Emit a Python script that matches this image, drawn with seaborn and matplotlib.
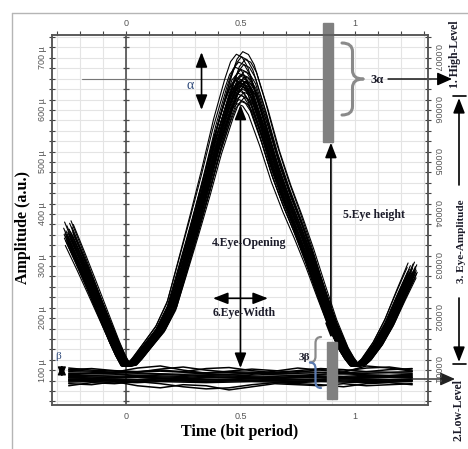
import numpy as np
import pandas as pd
import matplotlib
matplotlib.use('Agg')
import matplotlib.pyplot as plt
import seaborn as sns
from matplotlib.patches import Rectangle, PathPatch
from matplotlib.path import Path
from matplotlib.lines import Line2D
from matplotlib.ticker import MultipleLocator, FixedLocator, FuncFormatter

W, H = 468, 449

# mean "one" trace (time in bit periods, amplitude in micro units)
one_t = [-0.25, -0.2, -0.15, -0.1, -0.05, -0.025, 0.0, 0.025, 0.05, 0.1, 0.15, 0.2,
         0.25, 0.3, 0.35, 0.4, 0.45, 0.475, 0.5, 0.525, 0.55, 0.6, 0.65, 0.7, 0.75,
         0.8, 0.85, 0.9, 0.95, 0.975, 1.0, 1.025, 1.05, 1.1, 1.15, 1.2, 1.25]
one_v = [360, 310, 258, 205, 152, 128, 108, 110, 122, 150, 178, 222,
         298, 375, 455, 540, 612, 642, 655, 650, 632, 566, 492, 430, 375,
         316, 252, 190, 140, 122, 108, 110, 120, 150, 190, 240, 288]
one_base = 95

# peak of every "one" trace at t = 0.5 and its timing offset
one_peaks = [712, 707, 702, 697, 692, 687, 682, 678, 674, 671,
             668, 666, 664, 662, 660, 658, 657, 656, 655, 654,
             653, 652, 651, 650, 648, 646, 644, 642, 640, 637,
             634, 631, 628, 624, 620, 616, 612]
one_jitter = [0.010, -0.018, 0.004, 0.020, -0.008, 0.014, -0.022, 0.002, 0.016, -0.012,
              0.008, -0.004, 0.018, -0.016, 0.012, 0.000, -0.020, 0.006, 0.022, -0.010,
              0.014, -0.006, 0.003, -0.014, 0.019, -0.002, 0.011, -0.019, 0.007, -0.009,
              0.015, -0.013, 0.001, 0.017, -0.007, 0.005, -0.015]

# "zero" traces (low level band)
zero_t = [-0.25, -0.15, -0.05, 0.05, 0.15, 0.25, 0.35, 0.45, 0.55, 0.65,
          0.75, 0.85, 0.95, 1.05, 1.15, 1.25]
zero_traces = [
    [97, 96, 95, 97, 98, 96, 95, 97, 96, 95, 97, 96, 95, 97, 96, 97],
    [94, 93, 94, 95, 93, 92, 94, 95, 94, 93, 94, 95, 93, 94, 95, 94],
    [92, 90, 91, 93, 92, 90, 91, 92, 93, 91, 90, 92, 93, 91, 90, 92],
    [90, 89, 88, 90, 89, 88, 90, 91, 89, 88, 90, 89, 88, 90, 89, 90],
    [88, 87, 86, 88, 87, 86, 88, 89, 87, 86, 88, 87, 86, 88, 87, 88],
    [86, 85, 86, 87, 85, 84, 86, 87, 86, 85, 86, 87, 85, 86, 87, 86],
    [85, 84, 85, 86, 84, 83, 85, 86, 85, 84, 85, 86, 84, 85, 86, 85],
    [83, 82, 83, 82, 84, 83, 82, 83, 84, 83, 82, 83, 84, 83, 82, 83],
    [82, 83, 82, 81, 83, 82, 81, 82, 83, 82, 81, 82, 83, 82, 81, 82],
    [80, 81, 80, 79, 81, 80, 79, 80, 81, 80, 79, 80, 81, 80, 79, 80],
    [79, 80, 79, 78, 80, 79, 78, 79, 80, 79, 78, 80, 79, 78, 79, 80],
    [77, 78, 77, 76, 78, 77, 76, 77, 78, 77, 76, 78, 77, 76, 77, 78],
    [100, 98, 96, 104, 108, 100, 94, 98, 102, 99, 96, 101, 98, 104, 106, 100],
    [74, 72, 78, 70, 66, 72, 70, 62, 68, 74, 72, 70, 74, 70, 72, 74],
    [104, 100, 98, 96, 102, 106, 100, 96, 92, 98, 104, 100, 96, 108, 104, 98],
    [70, 76, 74, 78, 74, 68, 64, 66, 72, 76, 74, 72, 68, 74, 76, 72],
    [101, 103, 99, 97, 100, 97, 103, 105, 99, 95, 99, 103, 101, 97, 101, 103],
]

rows = []
for i, (pk, dt) in enumerate(zip(one_peaks, one_jitter)):
    s = (pk - one_base) / (max(one_v) - one_base)
    for t, v in zip(one_t, one_v):
        rows.append((f"one{i}", t + dt, one_base + (v - one_base) * s))
df_one = pd.DataFrame(rows, columns=["trace", "t", "amp"])

rows = []
for i, tr in enumerate(zero_traces):
    for t, v in zip(zero_t, tr):
        rows.append((f"zero{i}", t, v))
df_zero = pd.DataFrame(rows, columns=["trace", "t", "amp"])

sns.set_style("white")
SERIF = "Liberation Serif"
SANS = "Liberation Sans"
plt.rcParams['font.family'] = [SANS, 'DejaVu Sans']


def fx(px):
    return px / W


def fy(py):
    return 1 - py / H


fig = plt.figure(figsize=(W / 100, H / 100), dpi=100)
ax = fig.add_axes([fx(52), fy(405), fx(428) - fx(52), fy(35) - fy(405)])
ax.set_xlim(-0.323, 1.319)
ax.set_ylim(33, 744)

ax.xaxis.set_major_locator(FixedLocator([0, 0.5, 1]))
ax.xaxis.set_major_formatter(FuncFormatter(lambda v, p: f"{v:g}"))
ax.xaxis.set_minor_locator(MultipleLocator(0.1))
ax.yaxis.set_major_locator(MultipleLocator(100))
ax.yaxis.set_minor_locator(MultipleLocator(20))
ax.yaxis.set_major_formatter(FuncFormatter(lambda v, p: f"{v:.0f} \u00b5"))
ax.grid(which='both', color='#e4e4e4', lw=0.8, zorder=0)
ax.set_axisbelow(True)

for sp in ax.spines.values():
    sp.set_color('#555555')
    sp.set_linewidth(1.1)

ax.tick_params(axis='x', which='both', direction='out', top=True, labeltop=True,
               length=3, width=0.8, color='#444444', labelsize=6.5,
               labelcolor='#555555', pad=2)
ax.tick_params(axis='y', which='both', direction='inout', length=5, width=0.8,
               color='#444444', labelsize=6.5, labelcolor='#555555',
               labelrotation=90, pad=1)
for lab in ax.get_yticklabels():
    lab.set_va('center')

# vertical reference at t = 0 with its little ticks
ax.axvline(0, color='#4d4d4d', lw=1.2, zorder=1)
ymin_ticks = [v for v in ax.yaxis.get_minorticklocs() if 33 < v < 744]
ax.plot(np.zeros(len(ymin_ticks)), ymin_ticks, ls='none', marker='_', ms=4,
        mew=0.9, color='#4d4d4d', zorder=1)

sns.lineplot(data=df_zero, x="t", y="amp", units="trace", estimator=None,
             color='black', lw=1.1, sort=False, ax=ax, zorder=2)
sns.lineplot(data=df_one, x="t", y="amp", units="trace", estimator=None,
             color='black', lw=0.8, sort=False, ax=ax, zorder=2)
ax.set_xlabel("")
ax.set_ylabel("")

# right axis in volts
ax2 = ax.twinx()
ax2.set_ylim(ax.get_ylim())
ax2.yaxis.set_major_locator(MultipleLocator(100))
ax2.yaxis.set_minor_locator(MultipleLocator(20))
ax2.yaxis.set_major_formatter(FuncFormatter(lambda v, p: f"{v * 1e-6:.4f}"))
ax2.tick_params(axis='y', which='both', direction='inout', length=5, width=0.8,
                color='#444444', labelsize=6.5, labelcolor='#555555',
                labelrotation=-90, pad=1)
for lab in ax2.get_yticklabels():
    lab.set_va('center')
for sp in ax2.spines.values():
    sp.set_color('#555555')
    sp.set_linewidth(1.1)

# gray measurement bars
ax.add_patch(Rectangle((0.860, 538), 0.044, 229, color='#808080', clip_on=False, zorder=5))
ax.add_patch(Rectangle((0.878, 44), 0.043, 110, color='#808080', clip_on=False, zorder=5))

# high level reference line
ax.plot([-0.19, 0.86], [660, 660], color='#777777', lw=0.8, zorder=1.5)

arrow = dict(arrowstyle='<|-|>,head_length=0.9,head_width=0.35', color='black',
             lw=1.2, mutation_scale=10, shrinkA=0, shrinkB=0)
ax.annotate('', xy=(0.5, 104), xytext=(0.5, 610), arrowprops=arrow, zorder=6)
ax.annotate('', xy=(0.895, 162), xytext=(0.895, 537), arrowprops=arrow, zorder=6)
ax.annotate('', xy=(0.38, 238), xytext=(0.62, 238), arrowprops=arrow, zorder=6)
ax.annotate('', xy=(0.33, 600), xytext=(0.33, 711), arrowprops=arrow, zorder=6)
small = dict(arrow, arrowstyle='<|-|>,head_length=0.6,head_width=0.25', lw=0.9)
ax.annotate('', xy=(-0.28, 87), xytext=(-0.28, 110), arrowprops=small, zorder=6)

bold = dict(family=SERIF, weight='bold', color='#1c1c2a')
ax.text(0.54, 344, "4.Eye-Opening", fontsize=8.5, ha='center', va='center', zorder=7, **bold)
ax.text(0.515, 210, "6.Eye-Width", fontsize=8.5, ha='center', va='center', zorder=7, **bold)
ax.text(1.085, 398, "5.Eye height", fontsize=8.5, ha='center', va='center', zorder=7, **bold)
ax.text(0.28, 646, "\u03b1", fontsize=10, ha='center', va='center', family=SERIF,
        color='#2f4a7a', zorder=7)
ax.text(-0.297, 127, "\u03b2", fontsize=8, ha='center', va='center', family=SERIF,
        color='#2f4a7a', zorder=7)


def brace(x_end, x_tip, yt, yb, color, lw):
    xm = (x_end + x_tip) / 2
    ym = (yt + yb) / 2
    q = (yb - yt) * 0.12
    top = [(x_end, yt), (xm, yt), (xm, yt + q), (xm, ym - q), (xm, ym), (x_tip, ym)]
    bot = [(x_tip, ym), (xm, ym), (xm, ym + q), (xm, yb - q), (xm, yb), (x_end, yb)]
    codes = [Path.MOVETO, Path.CURVE3, Path.CURVE3, Path.LINETO, Path.CURVE3, Path.CURVE3]
    for pts, c in [(top, color[0]), (bot, color[1])]:
        verts = [(fx(x), fy(y)) for x, y in pts]
        fig.add_artist(PathPatch(Path(verts, codes), fill=False, edgecolor=c,
                                 lw=lw, transform=fig.transFigure, capstyle='round'))


brace(342, 363, 43, 115, ('#8a8a8a', '#8a8a8a'), 2.2)
brace(321, 310, 337, 388, ('#8a8a8a', '#5a7ab0'), 1.6)

fig.text(fx(377), fy(80), "3\u03b1", fontsize=9, ha='center', va='center', **bold)
fig.text(fx(304), fy(358), "3\u03b2", fontsize=8, ha='center', va='center', **bold)

fig_arrow = dict(arrowstyle='-|>,head_length=0.9,head_width=0.4', color='black',
                 lw=1.0, mutation_scale=10, shrinkA=0, shrinkB=0)
ax.annotate('', xy=(fx(452), fy(79)), xytext=(fx(388), fy(79)), xycoords='figure fraction',
            textcoords='figure fraction', arrowprops=fig_arrow, annotation_clip=False)
ax.annotate('', xy=(fx(455), fy(379)), xytext=(fx(412), fy(379)), xycoords='figure fraction',
            textcoords='figure fraction', arrowprops=dict(fig_arrow, color='#222222'),
            annotation_clip=False)

# eye amplitude dimension on the far right, broken around its label
up = dict(arrow, arrowstyle='-|>,head_length=0.9,head_width=0.35')
ax.annotate('', xy=(fx(459), fy(98)), xytext=(fx(459), fy(185)), xycoords='figure fraction',
            textcoords='figure fraction', arrowprops=up, annotation_clip=False)
ax.annotate('', xy=(fx(459), fy(362)), xytext=(fx(459), fy(298)), xycoords='figure fraction',
            textcoords='figure fraction', arrowprops=up, annotation_clip=False)
for yy in (96, 364):
    fig.add_artist(Line2D([fx(453), fx(466)], [fy(yy), fy(yy)], color='black', lw=1.2))

fig.text(fx(455), fy(54), "1. High-Level", rotation=90, fontsize=8.5, ha='center',
         va='center', **bold)
fig.text(fx(461), fy(241), "3. Eye-Amplitude", rotation=90, fontsize=8, ha='center',
         va='center', **bold)
fig.text(fx(458), fy(410), "2.Low-Level", rotation=90, fontsize=8.5, ha='center',
         va='center', **bold)

fig.text(fx(23), fy(228), "Amplitude (a.u.)", rotation=90, fontsize=11.5,
         ha='center', va='center', family=SERIF, weight='bold', color='black')
fig.text(fx(240), fy(432), "Time (bit period)", fontsize=11.5, ha='center',
         va='center', family=SERIF, weight='bold', color='black')

# thin outer frame
fig.add_artist(Line2D([fx(12), fx(12)], [fy(13), 0], color='#b5b5b5', lw=1.0))
fig.add_artist(Line2D([fx(12), 1], [fy(13), fy(13)], color='#b5b5b5', lw=1.0))

fig.savefig("out.png", dpi=100)
